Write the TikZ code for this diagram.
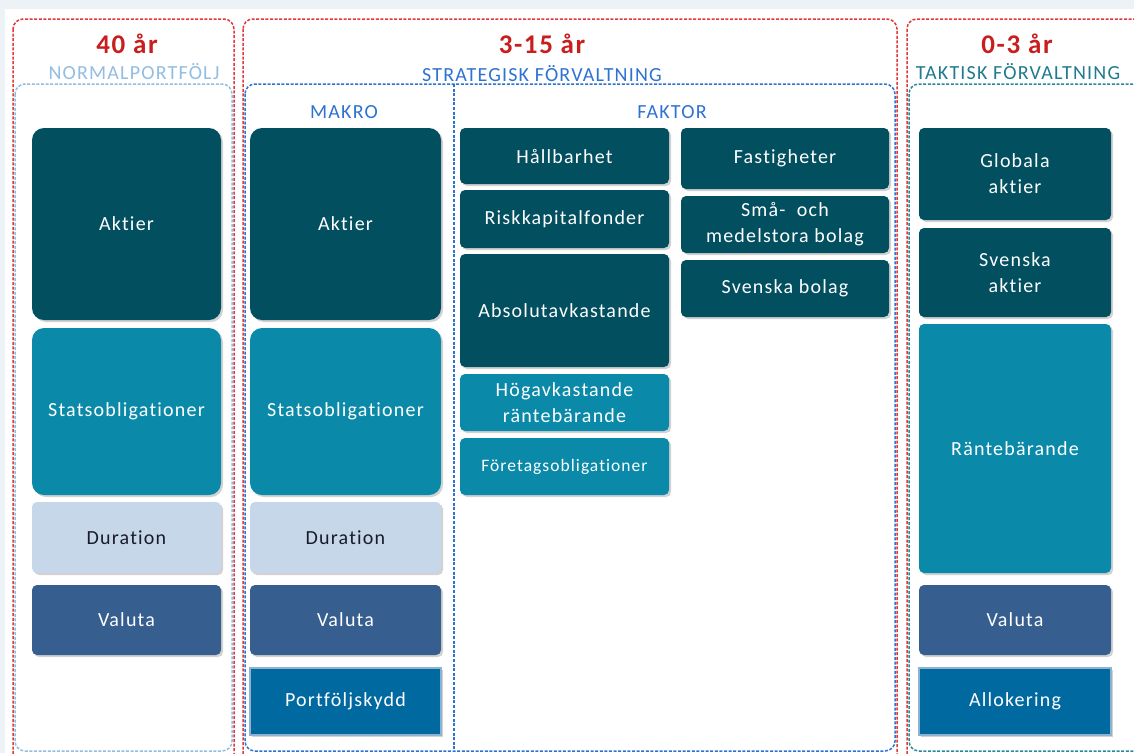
\documentclass[tikz,border=0pt]{standalone}
\usepackage{fontspec}
\setmainfont{Carlito}[LetterSpace=6, Ligatures={NoCommon}]
\usetikzlibrary{shadows}
\definecolor{bgc}{HTML}{EDF2F7}
\definecolor{dteal}{HTML}{024F60}
\definecolor{mteal}{HTML}{0A8AA8}
\definecolor{lblue}{HTML}{C6D7EA}
\definecolor{vblue}{HTML}{365E8F}
\definecolor{pblue}{HTML}{0069A0}
\definecolor{pborder}{HTML}{8DB3D1}
\definecolor{redline}{HTML}{E03A3A}
\definecolor{redtext}{HTML}{C81E1E}
\definecolor{hblue}{HTML}{2E72D2}
\definecolor{sblue}{HTML}{93BEE2}
\definecolor{tealtext}{HTML}{207A90}
\definecolor{tealline}{HTML}{2A8A9A}
\definecolor{darktext}{HTML}{1A1A2E}
\newcommand\bx[7]{\node[#6, minimum width={(#4-#2)*1pt}, minimum height={(#5-#3)*1pt}] (#1) at ({(#2+#4)/2},{(#3+#5)/2}) {#7};}
\begin{document}
\begin{tikzpicture}[x=1pt,y=-1pt,
  dashline/.style={dash pattern=on 3pt off 1.6pt, line width=1.5pt, rounded corners=10pt},
  box/.style={rectangle, inner sep=0pt, text=white, align=center,
     font=\fontsize{20}{26}\selectfont,
     drop shadow={opacity=0.35, shadow xshift=2pt, shadow yshift=-2pt}},
  big/.style={box, rounded corners=12pt},
  small/.style={box, rounded corners=5pt},
  title/.style={font=\fontsize{27}{30}\selectfont\bfseries, text=redtext},
  sub/.style={font=\fontsize{20}{24}\selectfont},
  lab/.style={font=\fontsize{20}{24}\selectfont, text=hblue}]
\useasboundingbox (0,0) rectangle (1134,753);
\clip (0,0) rectangle (1134,753);
\fill[bgc] (0,0) rectangle (1134,753);
\fill[white] (5,9) rectangle (1134,753);
% outer red boxes
\draw[dashline, redline] (13,19) rectangle (234,790);
\draw[dashline, redline] (243,19) rectangle (897,790);
\draw[dashline, redline] (907,19) rectangle (1150,790);
% inner boxes
\draw[dashline, sblue] (15,84) rectangle (232,751);
\draw[dashline, hblue] (245,84) rectangle (895,751);
\coordinate (dtop) at (454,84);
\coordinate (dbot) at (454,751);
\draw[dashline, hblue, rounded corners=0pt] (dtop) -- (dbot);
\draw[dashline, tealline] (909,84) rectangle (1150,751);
% headings
\node[title] (t1) at (127,44) {40 år};
\node[sub, text=sblue] (s1) at (134,72) {NORMALPORTFÖLJ};
\node[title] (t2) at (542,44) {3-15 år};
\node[sub, text=hblue] (s2) at (542,74) {STRATEGISK FÖRVALTNING};
\node[title] (t3) at (1017,44) {0-3 år};
\node[sub, text=tealtext] (s3) at (1018,72) {TAKTISK FÖRVALTNING};
\node[lab] (makro) at (344,112) {MAKRO};
\node[lab] (faktor) at (672,112) {FAKTOR};
% column 1
\bx{a1}{32}{128}{221}{320}{big, fill=dteal}{Aktier}
\bx{b1}{32}{328}{221}{495}{big, fill=mteal}{Statsobligationer}
\bx{c1}{32}{502}{221}{573}{small, fill=lblue, text=darktext}{Duration}
\bx{d1}{32}{585}{221}{655}{small, fill=vblue}{Valuta}
% column 2
\bx{a2}{250}{128}{441}{320}{big, fill=dteal}{Aktier}
\bx{b2}{250}{328}{441}{495}{big, fill=mteal}{Statsobligationer}
\bx{c2}{250}{502}{441}{573}{small, fill=lblue, text=darktext}{Duration}
\bx{d2}{250}{585}{441}{655}{small, fill=vblue}{Valuta}
\bx{e2}{250}{668}{441}{735}{box, fill=pblue, draw=pborder, line width=1.5pt}{Portföljskydd}
% faktor A
\bx{fa1}{460}{128}{669}{184}{small, fill=dteal}{Hållbarhet}
\bx{fa2}{460}{190}{669}{248}{small, fill=dteal}{Riskkapitalfonder}
\bx{fa3}{460}{254}{669}{367}{small, fill=dteal}{Absolutavkastande}
\bx{fa4}{460}{374}{669}{431}{small, fill=mteal}{Högavkastande\\räntebärande}
\bx{fa5}{460}{438}{669}{495}{small, fill=mteal, font=\fontsize{17.5}{22}\selectfont}{Företagsobligationer}
% faktor B
\bx{fb1}{681}{128}{889}{189}{small, fill=dteal}{Fastigheter}
\bx{fb2}{681}{196}{889}{253}{small, fill=dteal}{Små-\ \ och\\medelstora bolag}
\bx{fb3}{681}{260}{889}{317}{small, fill=dteal}{Svenska bolag}
% column 3
\bx{a3}{919}{128}{1111}{220}{small, fill=dteal}{Globala\\aktier}
\bx{b3}{919}{228}{1111}{317}{small, fill=dteal}{Svenska\\aktier}
\bx{c3}{919}{324}{1111}{573}{small, fill=mteal}{Räntebärande}
\bx{d3}{919}{585}{1111}{655}{small, fill=vblue}{Valuta}
\bx{e3}{919}{668}{1111}{735}{box, fill=pblue, draw=pborder, line width=1.5pt}{Allokering}
\end{tikzpicture}
\end{document}
